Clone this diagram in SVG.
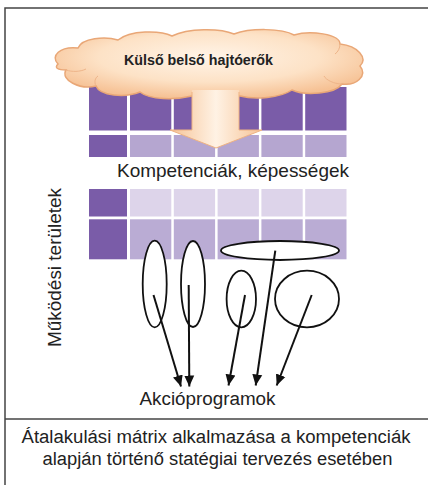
<svg xmlns="http://www.w3.org/2000/svg" width="428" height="485" viewBox="0 0 428 485">
<defs>
<style>
.dk{fill:#7a5ca8}
.md{fill:#b5a6d0}
.lt{fill:#ddd4ea}
.m2{fill:#baacd4}
.ell{fill:#fff;stroke:#111;stroke-width:1.8}
.con{stroke:#111;stroke-width:2;fill:none;marker-end:url(#ah)}
.t{font-family:"Liberation Sans",Arial,sans-serif;fill:#222}
.frame{stroke:#444;stroke-width:1.5;fill:none}
</style>
<radialGradient id="cg" cx="50%" cy="40%" r="60%">
<stop offset="0" stop-color="#fff4e8"/>
<stop offset="0.6" stop-color="#fde2c6"/>
<stop offset="1" stop-color="#f6c194"/>
</radialGradient>
<linearGradient id="ag" x1="0" y1="0" x2="1" y2="0">
<stop offset="0" stop-color="#f6c396"/>
<stop offset="0.5" stop-color="#fff2e4"/>
<stop offset="1" stop-color="#f6c396"/>
</linearGradient>
<marker id="ah" markerUnits="userSpaceOnUse" markerWidth="12" markerHeight="12" viewBox="0 0 12 12" refX="11" refY="6" orient="auto">
<path d="M0,1 L11,6 L0,11 Z" fill="#111"/>
</marker>
</defs>
<rect width="428" height="485" fill="#fff"/>
<g id="frame">
<path class="frame" d="M5,485 L5,8 L428,8"/>
<line class="frame" x1="5" y1="419" x2="428" y2="419"/>
</g>
<g id="grid-competencies">
<rect class="dk" x="89" y="87" width="38" height="43.5"/>
<rect class="dk" x="130" y="87" width="41.3" height="43.5"/>
<rect class="dk" x="173.8" y="87" width="41.3" height="43.5"/>
<rect class="dk" x="217.6" y="87" width="41.3" height="43.5"/>
<rect class="dk" x="261.4" y="87" width="41.3" height="43.5"/>
<rect class="dk" x="305.2" y="87" width="41.3" height="43.5"/>
<rect class="dk" x="89" y="135" width="38" height="22"/>
<rect class="md" x="130" y="135" width="41.3" height="22"/>
<rect class="md" x="173.8" y="135" width="41.3" height="22"/>
<rect class="md" x="217.6" y="135" width="41.3" height="22"/>
<rect class="md" x="261.4" y="135" width="41.3" height="22"/>
<rect class="md" x="305.2" y="135" width="41.3" height="22"/>
</g>
<g id="grid-areas">
<rect class="dk" x="89" y="189" width="38" height="27.5"/>
<rect class="lt" x="130" y="189" width="41.3" height="27.5"/>
<rect class="lt" x="173.8" y="189" width="41.3" height="27.5"/>
<rect class="lt" x="217.6" y="189" width="41.3" height="27.5"/>
<rect class="lt" x="261.4" y="189" width="41.3" height="27.5"/>
<rect class="lt" x="305.2" y="189" width="41.3" height="27.5"/>
<rect class="dk" x="89" y="219.3" width="38" height="40"/>
<rect class="m2" x="130" y="219.3" width="41.3" height="40"/>
<rect class="m2" x="173.8" y="219.3" width="41.3" height="40"/>
<rect class="m2" x="217.6" y="219.3" width="41.3" height="40"/>
<rect class="m2" x="261.4" y="219.3" width="41.3" height="40"/>
<rect class="m2" x="305.2" y="219.3" width="41.3" height="40"/>
</g>
<g id="cloud">
<path d="M58,64 C50,56 60,46 78,48 C82,38 105,36 118,40 C130,30 160,30 172,36 C188,28 220,28 234,34 C250,28 282,28 294,35 C310,30 340,34 340,44 C358,46 368,58 360,66 C368,76 356,86 342,84 C335,94 305,96 292,90 C280,98 255,100 240,96 L192,96 C175,100 150,100 140,92 C125,98 100,96 96,86 C80,90 60,80 66,70 C58,70 54,68 58,64 Z" fill="url(#cg)" stroke="#e9a777" stroke-width="1.5"/>
<path d="M66,70 C72,72 80,72 86,69 M96,86 C94,82 95,78 98,76 M340,44 C340,48 338,52 335,54 M342,84 C334,84 326,80 324,76" fill="none" stroke="#eeb58a" stroke-width="1"/>
<text class="t" x="198.5" y="65" font-size="14" font-weight="bold" text-anchor="middle" textLength="149" lengthAdjust="spacingAndGlyphs">Külső belső hajtóerők</text>
</g>
<g id="block-arrow">
<path d="M192,90 L192,130 L170,130 L216,148 L262,130 L239,130 L239,90 Z" fill="url(#ag)"/>
<path d="M192,92 L192,130 L170,130 L216,148 L262,130 L239,130 L239,92" fill="none" stroke="#eeb283" stroke-width="1"/>
</g>
<g id="label-competencies">
<text class="t" x="117" y="177" font-size="18.5" textLength="232" lengthAdjust="spacingAndGlyphs">Kompetenciák, képességek</text>
</g>
<g id="label-areas">
<text class="t" transform="translate(61,267.5) rotate(-90)" font-size="19" text-anchor="middle" textLength="159" lengthAdjust="spacingAndGlyphs">Működési területek</text>
</g>
<g id="ellipse-1"><ellipse class="ell" cx="154.7" cy="284" rx="12" ry="43.3"/></g>
<g id="ellipse-2"><ellipse class="ell" cx="193" cy="284" rx="12" ry="43"/></g>
<g id="ellipse-3"><ellipse class="ell" cx="280" cy="250.5" rx="59" ry="9.5"/></g>
<g id="ellipse-4"><ellipse class="ell" cx="241.3" cy="299" rx="14.7" ry="28.3"/></g>
<g id="ellipse-5"><ellipse class="ell" cx="307" cy="299" rx="32" ry="28.3"/></g>
<g id="connectors">
<line class="con" x1="153.5" y1="295" x2="181" y2="386.5"/>
<line class="con" x1="188.7" y1="285" x2="189.3" y2="386.5"/>
<line class="con" x1="245" y1="295" x2="228.5" y2="385.5"/>
<line class="con" x1="275.3" y1="250.7" x2="255.7" y2="385.5"/>
<line class="con" x1="311.7" y1="295" x2="276.7" y2="385.5"/>
</g>
<g id="label-actions">
<text class="t" x="139.5" y="405" font-size="18" textLength="136" lengthAdjust="spacingAndGlyphs">Akcióprogramok</text>
</g>
<g id="caption">
<text class="t" x="216" y="442.5" font-size="18" text-anchor="middle" textLength="389" lengthAdjust="spacingAndGlyphs">Átalakulási mátrix alkalmazása a kompetenciák</text>
<text class="t" x="217.5" y="465" font-size="18" text-anchor="middle" textLength="350" lengthAdjust="spacingAndGlyphs">alapján történő statégiai tervezés esetében</text>
</g>
</svg>
